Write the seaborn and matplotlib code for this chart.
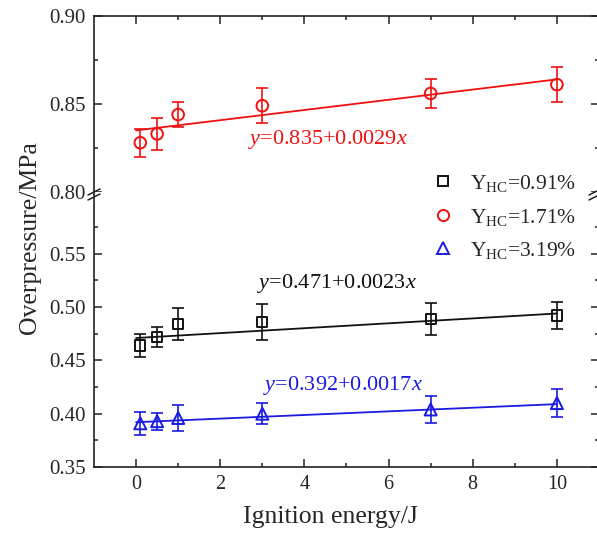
import numpy as np
import pandas as pd
import matplotlib
matplotlib.use("Agg")
import matplotlib.pyplot as plt
from matplotlib.lines import Line2D
from matplotlib.ticker import FixedLocator
import seaborn as sns

# Ignition energy (J) and measured overpressure (MPa) with error bars
energy = [0.1, 0.5, 1, 3, 7, 10]

op_091 = [0.464, 0.472, 0.484, 0.486, 0.489, 0.492]
err_091 = [0.011, 0.009, 0.015, 0.017, 0.015, 0.013]

op_171 = [0.828, 0.833, 0.844, 0.849, 0.856, 0.861]
err_171 = [0.008, 0.009, 0.007, 0.010, 0.008, 0.010]

op_319 = [0.391, 0.393, 0.396, 0.400, 0.404, 0.410]
err_319 = [0.011, 0.008, 0.012, 0.010, 0.013, 0.013]

# Linear fits: intercept, slope
fit_091 = (0.471, 0.0023)
fit_171 = (0.835, 0.0029)
fit_319 = (0.392, 0.0017)
fit_range = [0, 10]

series_labels = ["0.91%", "1.71%", "3.19%"]
x_ticks = [0, 2, 4, 6, 8, 10]
y_ticks_top = [0.80, 0.85, 0.90]
y_ticks_bot = [0.35, 0.40, 0.45, 0.50, 0.55]

sns.set_style("ticks")
plt.rcParams["font.family"] = ["Liberation Serif", "DejaVu Serif"]
plt.rcParams["mathtext.fontset"] = "custom"
plt.rcParams["mathtext.rm"] = "Liberation Serif"
plt.rcParams["mathtext.it"] = "Liberation Serif:italic"

BLACK = "#111111"
RED = "#f01010"
BLUE = "#1a1ae0"

W, H = 597, 534
fig = plt.figure(figsize=(W / 100, H / 100), dpi=100)
fig.patch.set_facecolor("white")

left_px, right_px = 94, 599
top_px, break_px, bottom_px = 16, 192, 467


def fx(px):
    return px / W


def fy(py):
    return 1 - py / H


ax_top = fig.add_axes([fx(left_px), fy(break_px), fx(right_px - left_px),
                       (break_px - top_px) / H])
ax_bot = fig.add_axes([fx(left_px), fy(bottom_px), fx(right_px - left_px),
                       (bottom_px - break_px) / H])

for ax in (ax_top, ax_bot):
    ax.set_facecolor("white")
    ax.set_xlim(-1, 11)
    ax.xaxis.set_major_locator(FixedLocator(x_ticks))
    ax.xaxis.set_minor_locator(FixedLocator([1, 3, 5, 7, 9]))
    for s in ax.spines.values():
        s.set_linewidth(1.2)
        s.set_color("#222222")
    ax.tick_params(which="both", direction="in", color="#222222", width=1.1,
                   labelsize=15, pad=6)
    ax.tick_params(which="major", length=5.5)
    ax.tick_params(which="minor", length=3)

ax_top.set_ylim(0.80, 0.90)
ax_top.yaxis.set_major_locator(FixedLocator(y_ticks_top))
ax_top.yaxis.set_minor_locator(FixedLocator([0.825, 0.875]))
ax_top.spines["bottom"].set_visible(False)
ax_top.tick_params(which="both", top=True, bottom=False, right=True,
                   labelbottom=False)
ax_top.set_yticklabels([f"{v:.2f}" for v in y_ticks_top])

ax_bot.set_ylim(0.35, 0.35 + (bottom_px - break_px) / 53.3 * 0.05)
ax_bot.yaxis.set_major_locator(FixedLocator(y_ticks_bot))
ax_bot.yaxis.set_minor_locator(FixedLocator([0.375, 0.425, 0.475, 0.525, 0.575]))
ax_bot.spines["top"].set_visible(False)
ax_bot.tick_params(which="both", top=False, right=True)
ax_bot.set_yticklabels([f"{v:.2f}" for v in y_ticks_bot])
ax_bot.set_xticklabels([str(v) for v in x_ticks])
ax_bot.tick_params(axis="x", labelsize=14.5)


def draw_series(ax, y, err, fit, color, marker, size):
    a, b = fit
    fit_y = [a + b * x for x in fit_range]
    sns.lineplot(x=fit_range, y=fit_y, color=color, linewidth=1.3, ax=ax,
                 zorder=2)
    ax.errorbar(energy, y, yerr=err, fmt="none", ecolor=color, elinewidth=1.2,
                capsize=4, capthick=1.2, zorder=3)
    sns.scatterplot(x=energy, y=y, marker=marker, s=size, facecolor="none",
                    edgecolor=color, linewidth=1.4, ax=ax, zorder=4)


draw_series(ax_bot, op_091, err_091, fit_091, BLACK, "s", 55)
draw_series(ax_top, op_171, err_171, fit_171, RED, "o", 70)
draw_series(ax_bot, op_319, err_319, fit_319, BLUE, "^", 75)
for ax in (ax_top, ax_bot):
    ax.set_xlabel("")
    ax.set_ylabel("")


def fit_text(fit):
    a, b = fit
    return rf"$\it{{y}}$={a}+{b}$\it{{x}}$"


ax_top.text(2.66, 0.8300, fit_text(fit_171), color=RED, fontsize=16,
            ha="left", va="center")
ax_bot.text(2.88, 0.5226, fit_text(fit_091), color=BLACK, fontsize=16,
            ha="left", va="center")
ax_bot.text(3.02, 0.4269, fit_text(fit_319), color=BLUE, fontsize=16,
            ha="left", va="center")

# Axis break marks on the left and right spines
for x0 in (left_px, right_px - 4):
    for dy in (0, 5):
        fig.add_artist(Line2D([fx(x0 - 6), fx(x0 + 6)],
                              [fy(break_px + 3 + dy), fy(break_px - 3 + dy)],
                              color="#222222", linewidth=1.1))

handles = [
    Line2D([], [], linestyle="none", marker="s", markersize=7,
           markerfacecolor="none", markeredgecolor=BLACK, markeredgewidth=1.4),
    Line2D([], [], linestyle="none", marker="o", markersize=8,
           markerfacecolor="none", markeredgecolor=RED, markeredgewidth=1.4),
    Line2D([], [], linestyle="none", marker="^", markersize=8,
           markerfacecolor="none", markeredgecolor=BLUE, markeredgewidth=1.4),
]
labels = [r"$\mathregular{Y_{HC}}$=" + s for s in series_labels]
fig.legend(handles, labels, loc="center left",
           bbox_to_anchor=(fx(432), fy(217)), frameon=False, fontsize=15.5,
           handlelength=1.0, handletextpad=0.75, labelspacing=0.58,
           borderpad=0, borderaxespad=0)

fig.text(fx(330), fy(517), "Ignition energy/J", fontsize=18.5,
         ha="center", va="center")
fig.text(fx(30), fy(238), "Overpressure/MPa", fontsize=18.5, rotation=90,
         ha="center", va="center")

fig.savefig("out.png", dpi=100, facecolor="white")
